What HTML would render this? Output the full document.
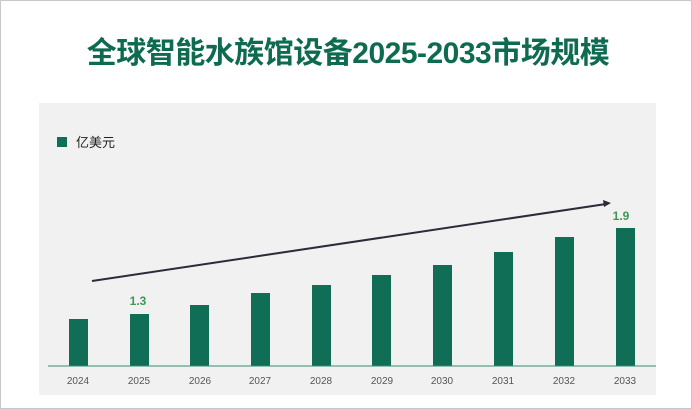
<!DOCTYPE html>
<html><head><meta charset="utf-8"><style>
body{margin:0;width:692px;height:409px;background:#fff;overflow:hidden;font-family:"Liberation Sans","Noto Sans CJK SC",sans-serif;}
.frame{position:absolute;left:0;top:0;width:690px;height:407px;border:1px solid #c8c8c8;}
.title{position:absolute;left:0;width:696px;top:28px;text-align:center;font-size:30px;font-weight:bold;color:#0f6b50;letter-spacing:-0.5px;}
</style></head><body>
<div class="frame"></div>
<div class="title">全球智能水族馆设备2025-2033市场规模</div>
<svg width="692" height="409" style="position:absolute;left:0;top:0">
<rect x="39" y="103" width="617" height="292" fill="#f1f1f1"/>
<rect x="57" y="137" width="10" height="10" fill="#0f6e55"/>
<text x="76" y="147" font-size="13" fill="#222" font-family="Liberation Sans,Noto Sans CJK SC,sans-serif">亿美元</text>
<g fill="#0f6e55">
<rect x="69" y="319" width="19" height="47"/>
<rect x="130" y="314" width="19" height="52"/>
<rect x="190" y="305" width="19" height="61"/>
<rect x="251" y="293" width="19" height="73"/>
<rect x="312" y="285" width="19" height="81"/>
<rect x="372" y="275" width="19" height="91"/>
<rect x="433" y="265" width="19" height="101"/>
<rect x="494" y="252" width="19" height="114"/>
<rect x="555" y="237" width="19" height="129"/>
<rect x="616" y="228" width="19" height="138"/>
</g>
<line x1="48" y1="366" x2="656" y2="366" stroke="#3a8a70" stroke-width="1"/>
<g font-size="10" fill="#555" text-anchor="middle">
<text x="78" y="384">2024</text><text x="139" y="384">2025</text><text x="200" y="384">2026</text>
<text x="260" y="384">2027</text><text x="321" y="384">2028</text><text x="382" y="384">2029</text>
<text x="442" y="384">2030</text><text x="503" y="384">2031</text><text x="564" y="384">2032</text>
<text x="625" y="384">2033</text></g>
<g font-size="12" font-weight="bold" fill="#3a9a55" text-anchor="middle">
<text x="138" y="305">1.3</text><text x="621" y="220">1.9</text></g>
<line x1="92" y1="281" x2="606" y2="204" stroke="#2b2b3a" stroke-width="2"/>
<polygon points="611,203 603,200 604,207" fill="#2b2b3a"/>
</svg>
</body></html>
